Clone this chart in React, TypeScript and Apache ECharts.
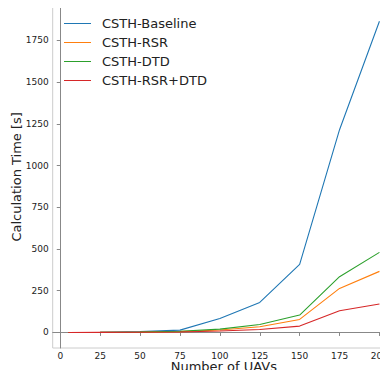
import React, { useEffect, useRef } from "react";
import * as echarts from "echarts";

const uavCounts = [5, 25, 50, 75, 100, 125, 150, 175, 200];
const baseline = [0, 1, 5, 14, 84, 180, 408, 1215, 1865];
const rsr = [0, 0.5, 2, 5, 15, 34, 78, 264, 366];
const dtd = [0, 0.5, 2.5, 7, 20, 48, 104, 334, 480];
const rsrDtd = [0, 0.3, 1.5, 3, 9, 18, 38, 130, 170];
const xTicks = [0, 25, 50, 75, 100, 125, 150, 175, 200];
const yTicks = [0, 250, 500, 750, 1000, 1250, 1500, 1750];
const seriesNames = ["CSTH-Baseline", "CSTH-RSR", "CSTH-DTD", "CSTH-RSR+DTD"];
const colors = ["#1f77b4", "#ff7f0e", "#2ca02c", "#d62728"];

export default function App() {
  const ref = useRef<HTMLDivElement>(null);
  useEffect(() => {
    if (!ref.current) return;
    const chart = echarts.init(ref.current, null, { renderer: "svg" });
    const font = "DejaVu Sans";
    const allSeries = [baseline, rsr, dtd, rsrDtd];
    chart.setOption({
      animation: false,
      textStyle: { fontFamily: font },
      grid: {
        left: 52.7,
        top: 5.7,
        right: -7,
        bottom: 30,
        outerBoundsMode: "none",
        containLabel: false,
        show: true,
        borderColor: "#cccccc",
        borderWidth: 1,
      },
      legend: {
        left: 64,
        top: 17,
        padding: 0,
        orient: "vertical",
        itemWidth: 27,
        itemHeight: 10,
        itemGap: 6,
        icon: "path://M0,0 L27,0 L27,1 L0,1 Z",
        data: seriesNames,
        textStyle: {
          fontFamily: font,
          fontSize: 13,
          color: "#222",
          padding: [0, 0, 0, 6],
        },
      },
      xAxis: {
        type: "value",
        min: -4.75,
        max: 209.75,
        name: "Number of UAVs",
        nameLocation: "middle",
        nameGap: 12,
        nameMoveOverlap: false,
        nameTextStyle: {
          fontFamily: font,
          fontSize: 13,
          color: "#222",
          verticalAlign: "top",
        },
        axisLine: { show: true, lineStyle: { color: "#888", width: 1 } },
        axisTick: { show: true, length: 3.5, customValues: xTicks, lineStyle: { color: "#888" } },
        axisLabel: {
          customValues: xTicks,
          formatter: (v: number) => String(v),
          fontFamily: font,
          fontSize: 9,
          lineHeight: 9,
          color: "#222",
          margin: 3,
        },
        splitLine: { show: false },
      },
      yAxis: {
        type: "value",
        min: -93.25,
        max: 1958.25,
        name: "Calculation Time [s]",
        nameLocation: "middle",
        nameGap: 30,
        nameMoveOverlap: false,
        nameTextStyle: { fontFamily: font, fontSize: 13, color: "#222" },
        axisLine: { show: true, lineStyle: { color: "#888", width: 1 } },
        axisTick: { show: true, length: 3.5, customValues: yTicks, lineStyle: { color: "#888" } },
        axisLabel: {
          customValues: yTicks,
          formatter: (v: number) => String(v),
          fontFamily: font,
          fontSize: 9,
          color: "#222",
          margin: 4,
        },
        splitLine: { show: false },
      },
      series: allSeries.map((vals, i) => ({
        name: seriesNames[i],
        type: "line",
        symbol: "none",
        showSymbol: false,
        color: colors[i],
        lineStyle: { width: 1.1, color: colors[i] },
        data: uavCounts.map((x, j) => [x, vals[j]]),
      })),
    });
    return () => chart.dispose();
  }, []);
  return <div ref={ref} style={{ width: 388, height: 378, margin: -8 }} />;
}
